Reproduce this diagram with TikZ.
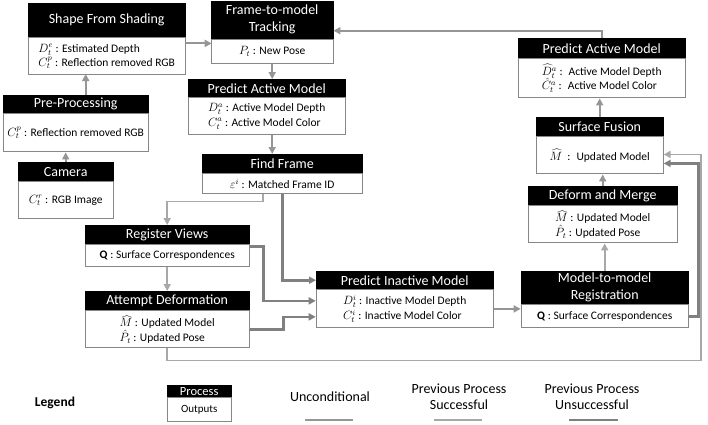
\documentclass[tikz,border=0pt]{standalone}
\usepackage{fontspec}
\setmainfont{Carlito}
\usetikzlibrary{arrows.meta}
\definecolor{linegray}{RGB}{150,150,150}
\definecolor{lightline}{RGB}{168,168,168}
\definecolor{darkline}{RGB}{128,128,128}
\definecolor{boxgray}{RGB}{135,135,135}
\tikzset{
  hdr/.style={draw=black, fill=black, text=white, inner sep=0pt, anchor=north west,
    font=\fontsize{14}{17}\selectfont, align=center},
  body/.style={draw=boxgray, line width=1pt, fill=white, inner sep=2pt, anchor=north,
    font=\fontsize{11.5}{14.5}\selectfont, align=left},
  lbl/.style={font=\fontsize{14}{16}\selectfont, align=center},
  uncond/.style={draw=linegray, line width=2pt},
  succ/.style={draw=lightline, line width=1.8pt},
  fail/.style={draw=darkline, line width=2.6pt},
}
\begin{document}
\begin{tikzpicture}[x=1pt, y=-1pt]
      \useasboundingbox (0,0) rectangle (708,424);
      % left column
      \node[hdr, minimum width=95pt, minimum height=19pt] (camh) at (18,162) {Camera};
      \node[body, minimum width=95pt, minimum height=37pt] (cam) at (camh.south) {$C_t^r$ : RGB Image};
      \node[hdr, minimum width=145pt, minimum height=18pt] (preh) at (3,95) {Pre-Processing};
      \node[body, minimum width=145pt, minimum height=38pt] (pre) at (preh.south) {$C_t^p$ : Reflection removed RGB};
      \node[hdr, minimum width=157pt, minimum height=34pt] (sfsh) at (28,3) {Shape From Shading};
      \node[body, minimum width=157pt, minimum height=37pt] (sfs) at (sfsh.south)
        {$D_t^e$ : Estimated Depth\\ $C_t^p$ : Reflection removed RGB};
      % middle column
      \node[hdr, minimum width=122pt, minimum height=38pt] (ftmh) at (211,0.5) {Frame-to-model\\ Tracking};
      \node[body, minimum width=122pt, minimum height=24pt] (ftm) at (ftmh.south) {$P_t$ : New Pose};
      \node[hdr, minimum width=157pt, minimum height=18pt] (pamh) at (188,79) {Predict Active Model};
      \node[body, minimum width=157pt, minimum height=37pt] (pam) at (pamh.south)
        {$D_t^a$ : Active Model Depth\\ $C_t^a$ : Active Model Color};
      \node[hdr, minimum width=160pt, minimum height=19pt] (ffh) at (202,154) {Find Frame};
      \node[body, minimum width=160pt, minimum height=20pt] (ff) at (ffh.south) {$\varepsilon^i$ : Matched Frame ID};
      \node[hdr, minimum width=164pt, minimum height=19pt] (rvh) at (85,225) {Register Views};
      \node[body, minimum width=164pt, minimum height=22pt] (rv) at (rvh.south) {\textbf{Q} : Surface Correspondences};
      \node[hdr, minimum width=164pt, minimum height=19pt] (adh) at (85,291) {Attempt Deformation};
      \node[body, minimum width=164pt, minimum height=37pt] (ad) at (adh.south)
        {$\widehat{M}$ : Updated Model\\ $\hat{P}_t$ : Updated Pose};
      \node[hdr, minimum width=177pt, minimum height=18pt] (pimh) at (316,271) {Predict Inactive Model};
      \node[body, minimum width=177pt, minimum height=38pt] (pim) at (pimh.south)
        {$D_t^i$ : Inactive Model Depth\\ $C_t^i$ : Inactive Model Color};
      % right column
      \node[hdr, minimum width=167pt, minimum height=33pt] (mmrh) at (521,271) {Model-to-model\\ Registration};
      \node[body, minimum width=167pt, minimum height=23pt] (mmr) at (mmrh.south) {\textbf{Q} : Surface Correspondences};
      \node[hdr, minimum width=149pt, minimum height=19pt] (dmh) at (528,186) {Deform and Merge};
      \node[body, minimum width=149pt, minimum height=37pt] (dm) at (dmh.south)
        {$\widehat{M}$ : Updated Model\\ $\hat{P}_t$ : Updated Pose};
      \node[hdr, minimum width=127pt, minimum height=19pt] (sfh) at (536,117) {Surface Fusion};
      \node[body, minimum width=127pt, minimum height=37pt] (sf) at (sfh.south) {$\widehat{M}$ \ : \ Updated Model};
      \node[hdr, minimum width=167pt, minimum height=20pt] (pamrh) at (518,38) {Predict Active Model};
      \node[body, minimum width=167pt, minimum height=39pt] (pamr) at (pamrh.south)
        {$\widehat{D}_t^a$ : \ Active Model Depth\\ $\hat{C}_t^a$ : \ Active Model Color};
      % legend
      \node[font=\fontsize{13.5}{15}\selectfont\bfseries] (lgd) at (55,403) {Legend};
      \node[hdr, minimum width=64pt, minimum height=12pt, font=\fontsize{12.5}{12}\selectfont] (lproch) at (167,385) {Process};
      \node[body, minimum width=64pt, minimum height=24pt, font=\fontsize{11}{12}\selectfont] (lproc) at (lproch.south) {Outputs};
      \node[lbl] (lunc) at (330,397) {Unconditional};
      \node[lbl] (lsucc) at (459,397) {Previous Process\\ Successful};
      \node[lbl] (lfail) at (592,397) {Previous Process\\ Unsuccessful};
      \coordinate (lunca) at (305,420);
      \coordinate (luncb) at (353,420);
      \coordinate (lsucca) at (434,420);
      \coordinate (lsuccb) at (482,420);
      \coordinate (lfaila) at (569,420);
      \coordinate (lfailb) at (618,420);
      \draw[uncond] (lunca) -- (luncb);
      \draw[succ] (lsucca) -- (lsuccb);
      \draw[fail] (lfaila) -- (lfailb);
      \begin{scope}[-{Triangle[length=7pt,width=7pt]}]
        \draw[uncond] (camh.north) -- (camh.north |- pre.south);
        \draw[uncond] ([xshift=10pt]preh.north) -- ++(0,-21);
        \draw[uncond] ([yshift=-6pt]sfs.north east) -- ++(26,0);
        \draw[uncond] (ftm.south) -- (ftm.south |- pamh.north);
        \draw[uncond] (ftm.south |- pam.south) -- (ftm.south |- ffh.north);
        \draw[succ] ([xshift=-19pt]ff.south) -- ++(0,7) -| (rvh.north);
        \draw[fail] (ff.south) |- (pimh.west);
        \draw[succ] (rv.south) -- (adh.north);
        \draw[fail] ([yshift=-2pt]rv.north east) -- ++(14,0) |- ([yshift=8pt]pim.west);
        \draw[fail] (ad.east) -- ++(34,0) |- ([yshift=-8pt]pim.west);
        \draw[succ] (ad.south) |- ++(534,12) |- ([yshift=1pt]sf.east);
        \draw[uncond] (pim.east) -- (pim.east -| mmr.west);
        \draw[succ] (mmrh.north) -- (mmrh.north |- dm.south);
        \draw[fail] (mmr.east) -- ++(10,0) |- ([yshift=-8pt]sf.east);
        \draw[uncond] (dmh.north) -- (dmh.north |- sf.south);
        \draw[uncond] (sfh.north) -- (sfh.north |- pamr.south);
        \draw[uncond] (pamrh.north) |- ([yshift=-11pt]ftmh.east);
      \end{scope}
    \end{tikzpicture}
\end{document}
